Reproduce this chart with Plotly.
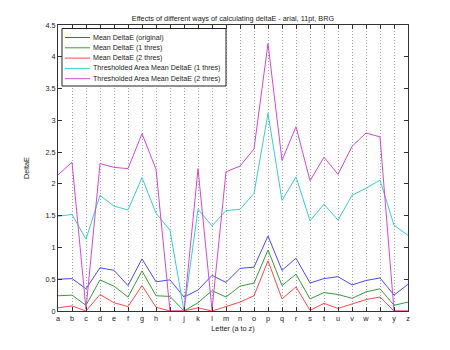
import plotly.graph_objects as go

letters = list("abcdefghijklmnopqrstuvwxyz")

mean_original = [0.50, 0.51, 0.35, 0.68, 0.64, 0.40, 0.82, 0.46, 0.49, 0.22, 0.33, 0.56, 0.45, 0.67,
                 0.69, 1.18, 0.64, 0.83, 0.44, 0.51, 0.54, 0.41, 0.48, 0.52, 0.25, 0.42]
mean_1thres = [0.24, 0.25, 0.09, 0.49, 0.39, 0.22, 0.63, 0.24, 0.23, 0.00, 0.13, 0.32, 0.22, 0.39,
               0.44, 0.96, 0.40, 0.58, 0.19, 0.29, 0.26, 0.20, 0.30, 0.35, 0.09, 0.14]
mean_2thres = [0.05, 0.08, 0.00, 0.26, 0.13, 0.07, 0.40, 0.06, 0.00, 0.00, 0.05, 0.00, 0.07, 0.14,
               0.24, 0.79, 0.19, 0.38, 0.01, 0.12, 0.04, 0.11, 0.18, 0.22, 0.00, 0.00]
area_1thres = [1.49, 1.52, 1.13, 1.82, 1.65, 1.59, 2.10, 1.54, 1.27, 0.00, 1.60, 1.34, 1.58, 1.60,
               1.85, 3.11, 1.74, 2.11, 1.42, 1.68, 1.43, 1.82, 1.93, 2.06, 1.35, 1.19]
area_2thres = [2.14, 2.34, 0.03, 2.32, 2.26, 2.24, 2.79, 2.23, 0.00, 0.00, 2.24, 0.02, 2.19, 2.28,
               2.55, 4.21, 2.37, 2.90, 2.05, 2.42, 2.15, 2.59, 2.80, 2.74, 0.00, 0.00]

series_names = ["Mean DeltaE (original)", "Mean DeltaE (1 thres)", "Mean DeltaE (2 thres)",
                "Thresholded Area Mean DeltaE (1 thres)", "Thresholded Area Mean DeltaE (2 thres)"]
series_values = [mean_original, mean_1thres, mean_2thres, area_1thres, area_2thres]
series_colors = ["#4a4aff", "#3a9a3a", "#ff4a4a", "#3ccccc", "#d24ad2"]

yticks = [0, 0.5, 1, 1.5, 2, 2.5, 3, 3.5, 4, 4.5]
yticktext = ["0", "0.5", "1", "1.5", "2", "2.5", "3", "3.5", "4", "4.5"]

FONT = "Liberation Sans, Arial, sans-serif"
W, H = 450, 350
L, R, T, B = 58, 42, 25, 39
PW, PH = W - L - R, H - T - B


def px(xp):
    return (xp - L) / PW


def py(yp):
    return (H - B - yp) / PH


fig = go.Figure()
for name, vals, col in zip(series_names, series_values, series_colors):
    fig.add_trace(go.Scatter(x=letters, y=vals, mode="lines", name=name,
                             line=dict(color=col, width=1), showlegend=False))

# legend drawn manually (MATLAB-style compact legend)
shapes = [dict(type="rect", xref="paper", yref="paper", x0=px(62), x1=px(226),
               y0=py(86), y1=py(28.5), fillcolor="white",
               line=dict(color="#222", width=1), layer="above")]
annotations = []
for i, (name, col) in enumerate(zip(series_names, series_colors)):
    yy = 37.5 + i * 10.3
    shapes.append(dict(type="line", xref="paper", yref="paper", x0=px(65), x1=px(90),
                       y0=py(yy), y1=py(yy), line=dict(color=col, width=1), layer="above"))
    annotations.append(dict(text=name, xref="paper", yref="paper", x=px(90.5), y=py(yy),
                            xanchor="left", yanchor="middle", showarrow=False,
                            font=dict(family=FONT, size=7.1, color="#222")))

fig.update_layout(
    width=W, height=H,
    margin=dict(l=L, r=R, t=T, b=B),
    paper_bgcolor="white", plot_bgcolor="white",
    font=dict(family=FONT, size=8, color="#222"),
    title=dict(text="Effects of different ways of calculating deltaE - arial, 11pt, BRG",
               x=0.5, xref="paper", y=1 - 18 / 350, yref="container",
               xanchor="center", yanchor="middle",
               font=dict(family=FONT, size=7.3, color="#222")),
    showlegend=False,
    shapes=shapes,
    annotations=annotations,
    xaxis=dict(type="category", categoryorder="array", categoryarray=letters,
               range=[0, 25], showgrid=True, gridcolor="#a0a0a0", griddash="1px,2px",
               gridwidth=1, ticks="inside", ticklen=4, tickcolor="#333",
               showline=True, linecolor="#333", linewidth=1, mirror="ticks",
               zeroline=False, tickfont=dict(size=7.3),
               title=dict(text="Letter (a to z)", font=dict(size=7.3), standoff=4)),
    yaxis=dict(range=[0, 4.5], tickvals=yticks, ticktext=yticktext,
               showgrid=False, ticks="inside", ticklen=4, tickcolor="#333",
               showline=True, linecolor="#333", linewidth=1, mirror="ticks",
               zeroline=False, tickfont=dict(size=7.3),
               title=dict(text="DeltaE", font=dict(size=7.3), standoff=14)),
)

fig.write_html("out.html")
